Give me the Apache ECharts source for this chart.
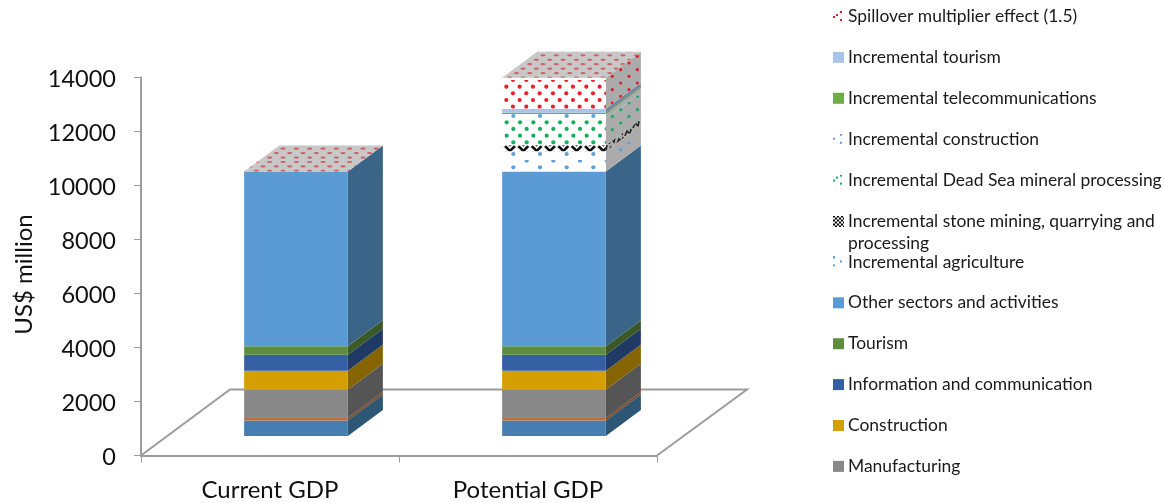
<!DOCTYPE html>
<html>
<head>
<meta charset="utf-8">
<style>html,body{margin:0;padding:0;background:#fff}#chart{width:1164px;height:503px}</style>
<script src="https://cdn.jsdelivr.net/npm/echarts@6/dist/echarts.min.js"></script>
</head>
<body>
<div id="chart"></div>
<script>
// GDP build-up by sector, US$ million
const categories = ['Current GDP', 'Potential GDP'];
const yTicks = { min: 0, max: 14000, interval: 2000 };

const agriculture        = [570, 570];
const mining             = [100, 100];
const manufacturing      = [1040, 1040];
const construction       = [705, 705];
const information        = [595, 595];
const tourism            = [310, 310];
const otherSectors       = [6480, 6480];
const incAgriculture     = [0, 743];
const incStoneMining     = [0, 223];
const incDeadSea         = [0, 984];
const incConstruction    = [0, 178];
const incTelecom         = [0, 45];
const incTourism         = [0, 149];
const spillover          = [0, 1150];

// Oblique projection of the box: floor depth, and how far bars stand in from the front edge.
const DEPTH_X = 35, DEPTH_Y = 26, BAR_SHIFT_X = 26, BAR_SHIFT_Y = 19.5, BAR_RATIO = 0.402;
const FLOOR_X = 89, FLOOR_Y = 66;
const FONT = 'Lato, "Open Sans", sans-serif';
const GREY_LINE = '#9c9c9c';

function tile(w, h, bg, draw) {
  const c = document.createElement('canvas');
  c.width = w; c.height = h;
  const g = c.getContext('2d');
  g.fillStyle = bg; g.fillRect(0, 0, w, h);
  draw(g);
  return { image: c, repeat: 'repeat' };
}
// Staggered dots on the front faces, rows every 6.67px over an 80x40 repeat.
function frontDots(col, stepX, phaseX, phaseY) {
  return tile(80, 40, '#ffffff', g => {
    g.fillStyle = col;
    const n = Math.round(80 / stepX);
    for (let r = 0; r < 6; r++) {
      for (let i = -1; i <= n; i++) {
        const x = phaseX + i * stepX + (r % 2) * stepX / 2;
        g.beginPath(); g.arc(x, phaseY + r * 6.667, 2.1, 0, Math.PI * 2); g.fill();
      }
    }
  });
}
// Same dots sheared along the side faces, on grey.
function sideDots(col, skip) {
  return tile(50, 40, '#ababab', g => {
    g.fillStyle = col;
    for (let i = 0; i < 6; i++) {
      for (let j = 0; j < 3; j++) {
        if (skip && (i + j) % 2) continue;
        const x = 4 + i * 8.333, y = 3 + j * 13.333 + (i % 2) * 6.667;
        g.beginPath(); g.arc(x, y, 1.6, 0, Math.PI * 2); g.fill();
      }
    }
  });
}
const redFront = frontDots('#e8202a', 13.333, 6.3, 0);
const greenFront = frontDots('#14b060', 13.333, 0, 2.3);
const blueLow = frontDots('#62a0dc', 26.667, 20, 0.67);
const blueHigh = frontDots('#62a0dc', 26.667, 20, 2.67);
const stoneFront = tile(40, 6, '#ffffff', g => {
  g.strokeStyle = '#111'; g.lineWidth = 2.6;
  for (let i = -1; i < 4; i++) {
    const x = 3.33 + i * 13.333;
    [-6, 0].forEach(oy => {
      g.beginPath(); g.moveTo(x - 5, 2 + oy); g.lineTo(x, 7 + oy); g.lineTo(x + 5, 2 + oy); g.stroke();
    });
  }
});
const stoneSide = tile(8, 8, '#ababab', g => {
  g.strokeStyle = '#222'; g.lineWidth = 1.6;
  g.beginPath(); g.moveTo(1, 8); g.lineTo(3, 3); g.lineTo(6, 6); g.lineTo(7, 1); g.stroke();
});
const capPattern = tile(40, 40, '#c8c8c8', g => {
  g.fillStyle = 'rgba(214,50,60,0.7)';
  for (let r = 0; r < 9; r++) {
    for (let i = -1; i < 4; i++) {
      g.beginPath();
      g.ellipse(3 + i * 13.333 + (r % 2) * 6.667, 2 + r * 4.444, 2.6, 1.1, 0, 0, Math.PI * 2);
      g.fill();
    }
  }
});

// Small key swatches: white square with a few dots, or a fine checker.
function dotSwatch(col, dots) {
  return tile(11, 11, '#ffffff', g => {
    g.fillStyle = col;
    dots.forEach(d => g.fillRect(d[0] - 1, d[1] - 1, 2, 2));
  }).image;
}
const checkSwatch = tile(11, 11, '#ffffff', g => {
  g.fillStyle = '#000';
  for (let y = 0; y < 11; y += 2) for (let x = (y % 4 ? 2 : 0); x < 11; x += 4) g.fillRect(x, y, 2, 2);
}).image;

// Stacking order is bottom to top; sectors without a label stay out of the key.
const layers = [
  { name: 'Agriculture', values: agriculture, front: '#477eb1', side: '#2e5675' },
  { name: 'Mining and quarrying', values: mining, front: '#c0703c', side: '#7c4a28' },
  { name: 'Manufacturing', values: manufacturing, front: '#888888', side: '#555555', label: 'Manufacturing' },
  { name: 'Construction', values: construction, front: '#d49f00', side: '#866500', label: 'Construction' },
  { name: 'Information and communication', values: information, front: '#355fa3', side: '#203a66', label: 'Information and communication' },
  { name: 'Tourism', values: tourism, front: '#5e8e3d', side: '#3b5827', label: 'Tourism' },
  { name: 'Other sectors and activities', values: otherSectors, front: '#5b9bd5', side: '#3a6589', label: 'Other sectors and activities' },
  { name: 'Incremental agriculture', values: incAgriculture, front: blueLow, side: sideDots('#62a0dc', true),
    swatch: dotSwatch('#62a0dc', [[1, 1], [1, 9], [8, 5]]), label: 'Incremental agriculture' },
  { name: 'Incremental stone mining', values: incStoneMining, front: stoneFront, side: stoneSide,
    swatch: checkSwatch, label: 'Incremental stone mining, quarrying and\nprocessing' },
  { name: 'Incremental Dead Sea mineral processing', values: incDeadSea, front: greenFront, side: sideDots('#1fa765'),
    swatch: dotSwatch('#14b060', [[1, 6], [4, 3], [8, 1], [8, 9]]), label: 'Incremental Dead Sea mineral processing' },
  { name: 'Incremental construction', values: incConstruction, front: blueHigh, side: sideDots('#62a0dc', true),
    swatch: dotSwatch('#62a0dc', [[1, 5], [8, 1], [8, 9]]), label: 'Incremental construction' },
  { name: 'Incremental telecommunications', values: incTelecom, front: '#70ad47', side: '#5c8c3e', label: 'Incremental telecommunications' },
  { name: 'Incremental tourism', values: incTourism, front: '#a9c4e6', side: '#74879f', label: 'Incremental tourism' },
  { name: 'Spillover multiplier effect (1.5)', values: spillover, front: redFront, side: sideDots('#d8222c'),
    swatch: dotSwatch('#e8202a', [[1, 6], [4, 4], [8, 1], [8, 9]]), label: 'Spillover multiplier effect (1.5)' }
];

function barFrame(api, cat, value) {
  const p = api.coord([cat, value]);
  const band = api.size([1, 0])[0];
  const half = band * BAR_RATIO / 2;
  const cx = p[0] + BAR_SHIFT_X;
  return { l: cx - half, r: cx + half, y: p[1] - BAR_SHIFT_Y };
}

function renderLayer(layer) {
  return function (params, api) {
    const cat = api.value(0), base = api.value(1), top = api.value(2);
    if (top <= base) return null;
    const a = barFrame(api, cat, base), b = barFrame(api, cat, top);
    return {
      type: 'group',
      children: [
        { type: 'polygon', silent: true,
          shape: { points: [[a.r, a.y], [a.r + DEPTH_X, a.y - DEPTH_Y], [b.r + DEPTH_X, b.y - DEPTH_Y], [b.r, b.y]] },
          style: { fill: layer.side } },
        { type: 'rect', silent: true,
          shape: { x: a.l, y: b.y, width: a.r - a.l, height: a.y - b.y },
          style: { fill: layer.front } }
      ]
    };
  };
}

function renderCap(params, api) {
  const f = barFrame(api, api.value(0), api.value(1));
  return {
    type: 'polygon', silent: true,
    shape: { points: [[f.l, f.y], [f.r, f.y], [f.r + DEPTH_X, f.y - DEPTH_Y], [f.l + DEPTH_X, f.y - DEPTH_Y]] },
    style: { fill: capPattern }
  };
}

function renderFloor(params, api) {
  const s = params.coordSys;
  const y0 = s.y + s.height, x0 = s.x, x1 = s.x + s.width;
  return {
    type: 'polyline', silent: true,
    shape: { points: [[x0, y0], [x0 + FLOOR_X, y0 - FLOOR_Y], [x1 + FLOOR_X + 1, y0 - FLOOR_Y], [x1, y0]] },
    style: { fill: 'none', stroke: GREY_LINE, lineWidth: 2 }
  };
}

const running = categories.map(() => 0);
const layerSeries = layers.map(layer => {
  const data = categories.map((c, i) => {
    const base = running[i];
    running[i] += layer.values[i];
    return [i, base, running[i]];
  });
  return {
    type: 'custom', name: layer.name, data,
    renderItem: renderLayer(layer),
    encode: { x: 0, y: [1, 2] }, clip: false, z: 3, animation: false
  };
});

const series = [
  { type: 'custom', name: 'floor', data: [[0, 0]], renderItem: renderFloor, clip: false, z: 1, animation: false },
  ...layerSeries,
  { type: 'custom', name: 'top', data: running.map((v, i) => [i, v]), renderItem: renderCap,
    encode: { x: 0, y: 1 }, clip: false, z: 3, animation: false }
];

// Key at the right: fixed rows, last-stacked sector first.
const keyRows = layers.filter(l => l.label).reverse();
const keyGraphics = [];
keyRows.forEach((l, i) => {
  const y = 17 + i * 40.9;
  if (l.swatch) {
    keyGraphics.push({ type: 'image', silent: true,
      style: { image: l.swatch, x: 833, y: y - 6, width: 11, height: 11 } });
  } else {
    keyGraphics.push({ type: 'rect', silent: true, shape: { x: 833, y: y - 6, width: 11, height: 11 },
      style: { fill: l.front } });
  }
  keyGraphics.push({ type: 'text', silent: true, x: 848, y: y - 11.5,
    style: { text: l.label, font: '17.45px ' + FONT, fill: '#1a1a1a', lineHeight: 22, textVerticalAlign: 'top' } });
});

const chart = echarts.init(document.getElementById('chart'), null, { renderer: 'canvas' });
chart.setOption({
  animation: false,
  backgroundColor: '#fff',
  grid: { left: 141, top: 77.5, width: 516, height: 378, containLabel: false },
  xAxis: {
    type: 'category', data: categories,
    axisLine: { lineStyle: { color: GREY_LINE, width: 2 } },
    axisTick: { show: true, length: 7, lineStyle: { color: GREY_LINE, width: 1 } },
    axisLabel: { fontFamily: FONT, fontSize: 24, color: '#111', margin: 23 }
  },
  yAxis: {
    type: 'value', min: yTicks.min, max: yTicks.max, interval: yTicks.interval,
    name: 'US$ million', nameLocation: 'middle', nameGap: 105, nameRotate: 90,
    nameTextStyle: { fontFamily: FONT, fontSize: 24, color: '#111', padding: [0, 16, 0, 0] },
    axisLine: { show: true, lineStyle: { color: GREY_LINE, width: 2 } },
    axisTick: { show: true, length: 7, lineStyle: { color: GREY_LINE, width: 1 } },
    splitLine: { show: false },
    axisLabel: {
      margin: 25,
      formatter: v => '{n|' + v + '}',
      rich: { n: { fontFamily: FONT, fontSize: 23.5, color: '#111', padding: [4, 0, 0, 0] } }
    }
  },
  series,
  graphic: { elements: keyGraphics }
});
</script>
</body>
</html>
